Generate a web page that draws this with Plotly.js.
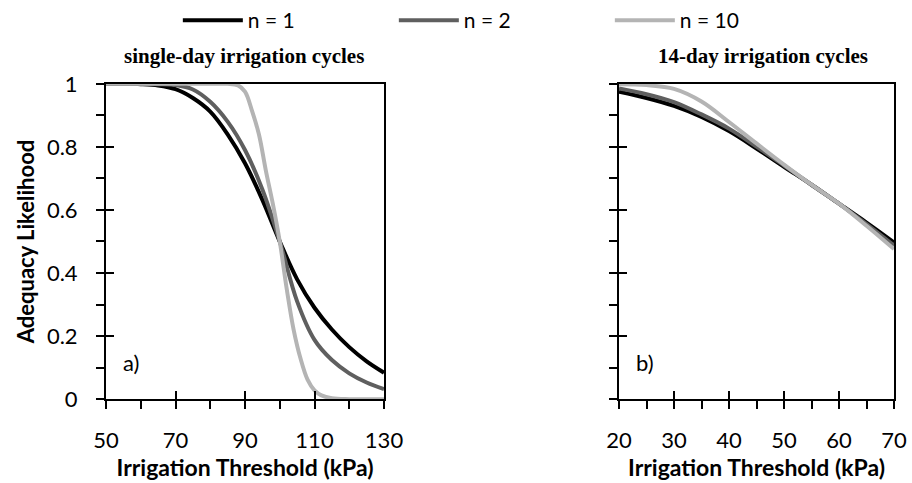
<!DOCTYPE html>
<html>
<head>
<meta charset="utf-8">
<script src="https://cdn.plot.ly/plotly-3.0.1.min.js"></script>
<style>html,body{margin:0;padding:0;background:#fff;}#chart{width:912px;height:483px;}</style>
</head>
<body>
<div id="chart"></div>
<script>
// Panel a: single-day irrigation cycles
const aX = [50,55,60,65,70,75,80,85,90,95,100,105,110,115,120,125,130];
const aN1 = [1.0,1.0,0.999,0.995,0.983,0.955,0.912,0.84,0.748,0.632,0.5,0.38,0.29,0.221,0.165,0.12,0.084];
const aN2 = [1.0,1.0,1.0,0.999,0.996,0.982,0.943,0.88,0.79,0.665,0.5,0.31,0.188,0.124,0.082,0.053,0.032];
const aX10 = [50,60,70,80,85,88,90,92,94,96,98,100,102,104,106,108,110,112,115,120,130];
const aN10 = [1,1,1,1,1,0.995,0.975,0.915,0.84,0.725,0.62,0.5,0.35,0.22,0.128,0.062,0.028,0.012,0.003,0,0];
// Panel b: 14-day irrigation cycles
const bX = [20,25,30,35,40,45,50,55,60,65,70];
const bN1 = [0.975,0.955,0.93,0.895,0.85,0.795,0.737,0.68,0.62,0.56,0.497];
const bN2 = [0.985,0.967,0.942,0.903,0.858,0.801,0.741,0.68,0.62,0.555,0.487];
const bN10 = [0.999,0.996,0.984,0.944,0.879,0.811,0.744,0.68,0.62,0.55,0.476];
const seriesNames = ['n = 1','n = 2','n = 10'];
const xTitle = 'Irrigation Threshold (kPa)';
const yTitle = 'Adequacy Likelihood';
const panelTitles = ['single-day irrigation cycles','14-day irrigation cycles'];
const panelLabels = ['a)','b)'];

const colors = ['#000000','#5f5f5f','#b4b4b4'];
const LW = 4;
const F = 'Lato, "Open Sans", sans-serif';
const SERIF = '"Liberation Serif", "Times New Roman", serif';

function line(x,y,i,xa,ya,show){
  return {x:x,y:y,type:'scatter',mode:'lines',name:seriesNames[i],xaxis:xa,yaxis:ya,
    line:{color:colors[i],width:LW,shape:'spline',smoothing:1},showlegend:show,hoverinfo:'skip'};
}
const traces = [
  line(aX,aN1,0,'x','y',true),
  line(aX,aN2,1,'x','y',true),
  line(aX10,aN10,2,'x','y',true),
  line(bX,bN1,0,'x2','y2',false),
  line(bX,bN2,1,'x2','y2',false),
  line(bX,bN10,2,'x2','y2',false),
  // dummy traces for inside-tick overlay axes
  {x:[null],y:[null],xaxis:'x3',yaxis:'y3',type:'scatter',showlegend:false,hoverinfo:'skip'},
  {x:[null],y:[null],xaxis:'x4',yaxis:'y4',type:'scatter',showlegend:false,hoverinfo:'skip'}
];

const yDom = [1-399/483, 1-83/483];
const tickFont = {family:F,size:22,color:'#000'};
const baseAx = {showline:true,linecolor:'#000',linewidth:2,mirror:true,showgrid:false,zeroline:false,
  ticks:'outside',ticklen:8,tickwidth:2,tickcolor:'#000',tickfont:tickFont};
const insideAx = {showline:false,showgrid:false,zeroline:false,ticks:'inside',ticklen:8,tickwidth:2,tickcolor:'#000',showticklabels:false};

const layout = {
  width:912,height:483,margin:{l:0,r:0,t:0,b:0},
  paper_bgcolor:'#fff',plot_bgcolor:'rgba(0,0,0,0)',
  font:{family:F,color:'#000'},
  showlegend:true,
  legend:{orientation:'h',x:0.195,xanchor:'left',y:1.003,yanchor:'top',font:{family:F,size:21,color:'#000'},
    itemwidth:60,entrywidth:141,entrywidthmode:'pixels',bgcolor:'rgba(0,0,0,0)'},
  xaxis:Object.assign({},baseAx,{domain:[106/912,384/912],anchor:'y',range:[50,130],tick0:50,dtick:20,
    minor:{dtick:10,tick0:50,ticks:'outside',ticklen:8,tickwidth:2,tickcolor:'#000'},ticklabelstandoff:12,
    title:{text:'<b>'+xTitle+'</b>',font:{family:F,size:23,color:'#000'},standoff:6}}),
  yaxis:Object.assign({},baseAx,{domain:yDom,anchor:'x',range:[0,1],dtick:0.2,
    minor:{dtick:0.1,ticks:'outside',ticklen:8,tickwidth:2,tickcolor:'#000'},ticklabelstandoff:14,
    title:{text:'<b>'+yTitle+'</b>',font:{family:F,size:22,color:'#000'},standoff:6}}),
  xaxis2:Object.assign({},baseAx,{domain:[619/912,894/912],anchor:'y2',range:[20,70],tick0:20,dtick:10,
    minor:{dtick:5,tick0:20,ticks:'outside',ticklen:8,tickwidth:2,tickcolor:'#000'},ticklabelstandoff:12,
    title:{text:'<b>'+xTitle+'</b>',font:{family:F,size:23,color:'#000'},standoff:6}}),
  yaxis2:Object.assign({},baseAx,{domain:yDom,anchor:'x2',range:[0,1],dtick:0.2,showticklabels:false,
    minor:{dtick:0.1,ticks:'outside',ticklen:8,tickwidth:2,tickcolor:'#000'}}),
  xaxis3:Object.assign({},insideAx,{overlaying:'x',anchor:'y',range:[50,130],tick0:50,dtick:20}),
  yaxis3:Object.assign({},insideAx,{overlaying:'y',anchor:'x',range:[0,1],dtick:0.2}),
  xaxis4:Object.assign({},insideAx,{overlaying:'x2',anchor:'y2',range:[20,70],tick0:20,dtick:10}),
  yaxis4:Object.assign({},insideAx,{overlaying:'y2',anchor:'x2',range:[0,1],dtick:0.2}),
  annotations:[
    {text:'<b>'+panelTitles[0]+'</b>',xref:'paper',yref:'paper',x:244/912,y:1-55/483,xanchor:'center',yanchor:'middle',showarrow:false,
      font:{family:SERIF,size:21,color:'#000'}},
    {text:'<b>'+panelTitles[1]+'</b>',xref:'paper',yref:'paper',x:763/912,y:1-55/483,xanchor:'center',yanchor:'middle',showarrow:false,
      font:{family:SERIF,size:21,color:'#000'}},
    {text:panelLabels[0],xref:'x domain',yref:'y domain',x:0.055,y:0.115,xanchor:'left',yanchor:'middle',showarrow:false,
      font:{family:F,size:22,color:'#000'}},
    {text:panelLabels[1],xref:'x2 domain',yref:'y2 domain',x:0.055,y:0.115,xanchor:'left',yanchor:'middle',showarrow:false,
      font:{family:F,size:22,color:'#000'}}
  ]
};
Plotly.newPlot('chart',traces,layout,{staticPlot:true,displayModeBar:false});
</script>
</body>
</html>
